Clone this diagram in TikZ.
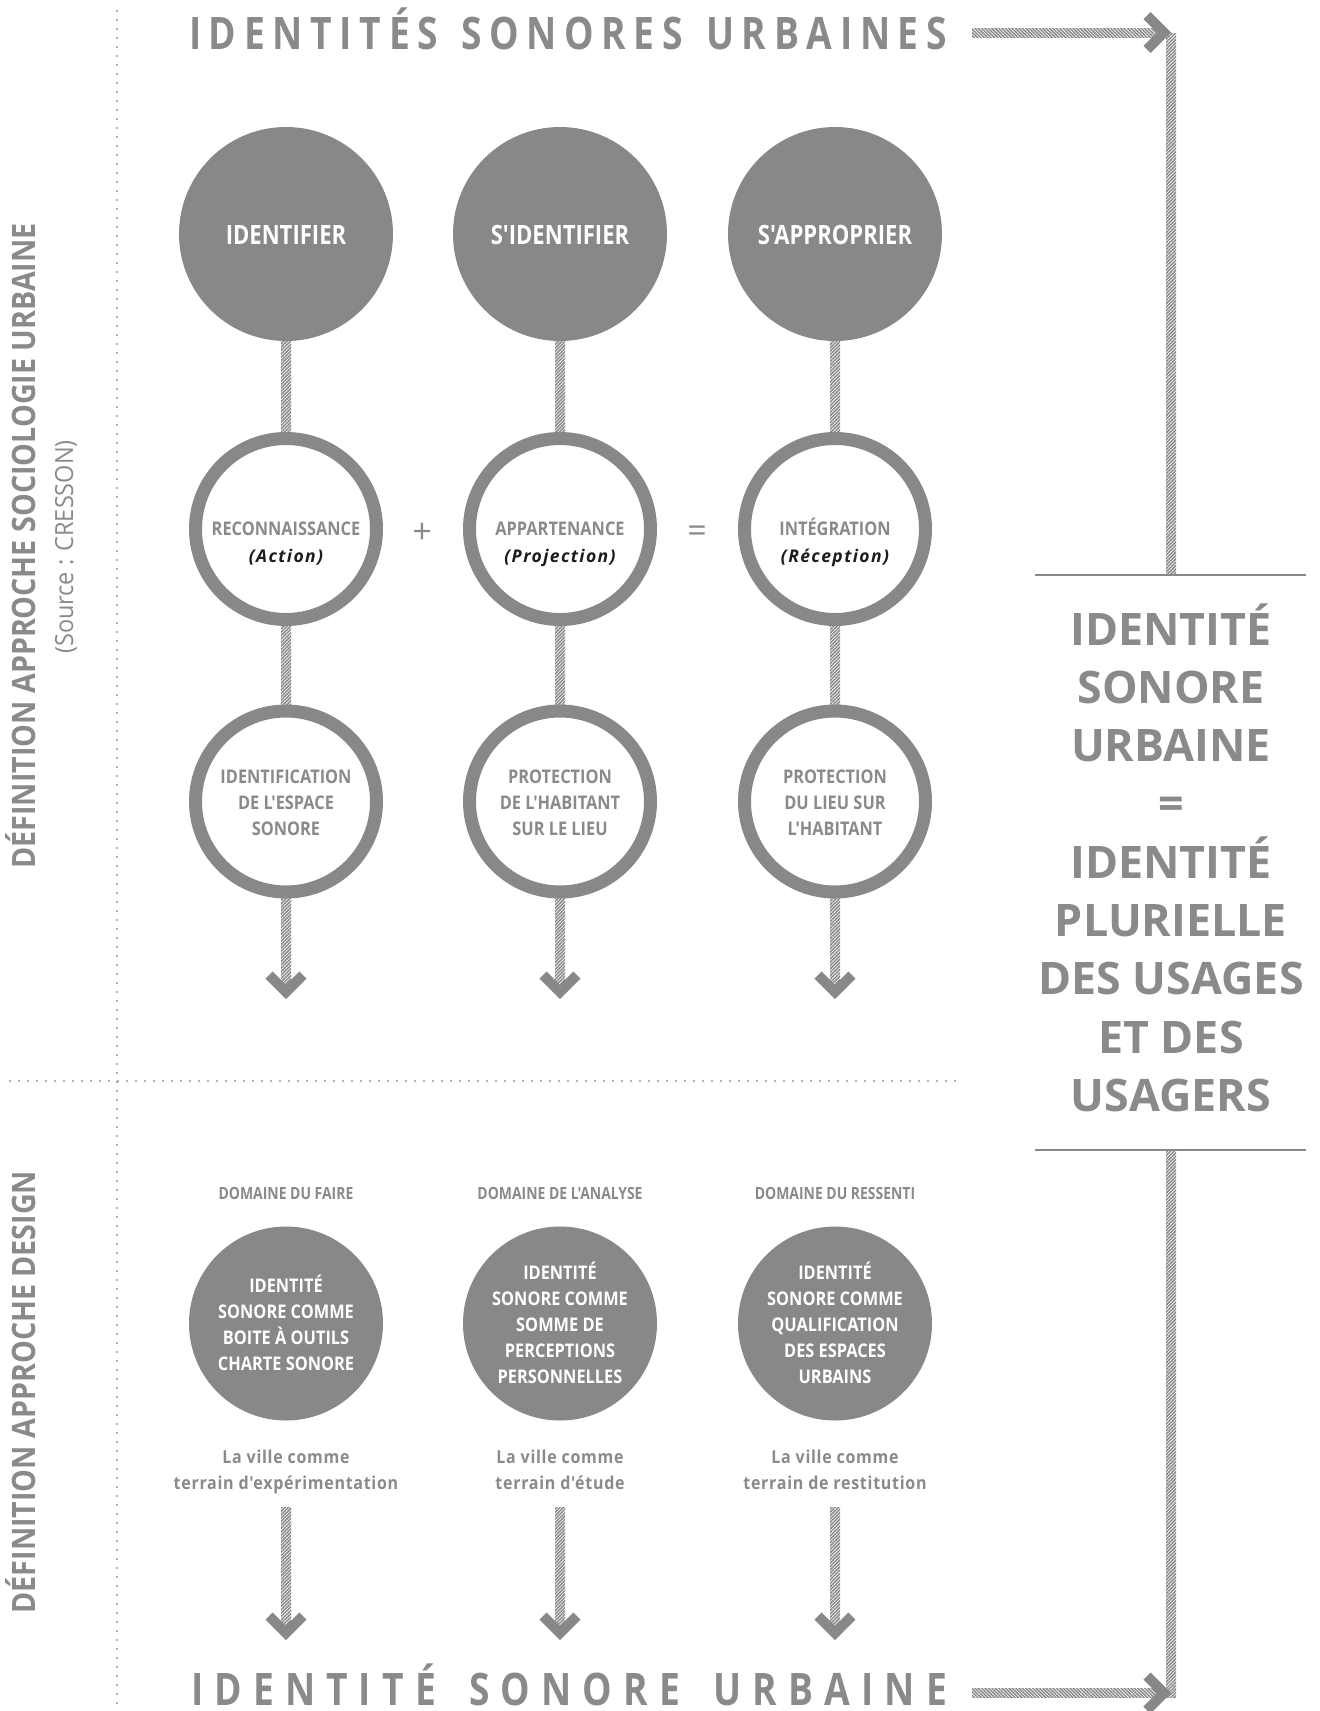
\documentclass[tikz,border=0pt]{standalone}
\usepackage{fontspec}
\setmainfont{Open Sans}
\newfontfamily\fcond[FakeStretch=0.83]{Open Sans}
\newfontfamily\fcondb[FakeStretch=0.87]{Open Sans}
\newfontfamily\fvert[FakeStretch=0.89]{Open Sans}
\newfontfamily\fsrc[FakeStretch=0.94]{Open Sans}
\newfontfamily\fwide{Open Sans}
\newfontfamily\fital[LetterSpace=8]{Open Sans}
\newfontfamily\fville[FakeStretch=0.9,LetterSpace=4]{Open Sans}
\usetikzlibrary{patterns.meta,calc}
\definecolor{gfill}{RGB}{136,136,136}
\definecolor{gtext}{RGB}{138,138,138}
\definecolor{dotc}{RGB}{150,150,150}
\definecolor{ink}{RGB}{28,28,28}
\newcommand\lgap{\hspace{0pt plus 1fill}}
\newcommand\wgap{\hspace{0pt plus 3fill}}
\newcommand\txtlines[6]{%
  \foreach \s [count=\i from 0] in {#6} {\node[lbl,#5] (#1\i) at (#2,{#3+\i*#4}) {\s};}}
\begin{document}
\begin{tikzpicture}[x=1pt,y=-1pt,
  lbl/.style={inner sep=0pt, anchor=base, text=gtext},
  cfont/.style={font=\fcond\bfseries\fontsize{#1}{#1}\selectfont},
  sfont/.style={font=\fcondb\bfseries\fontsize{#1}{#1}\selectfont},
  fillc/.style={circle, fill=gfill, inner sep=0pt, minimum size=#1},
  ringc/.style={circle, draw=gfill, line width=13pt, fill=white, inner sep=0pt, minimum size=181pt},
  hatchv/.style={pattern={Lines[angle=45,distance=2.4pt,line width=1.5pt]}, pattern color=gfill},
  hatchh/.style={pattern={Lines[angle=-45,distance=2.4pt,line width=1.5pt]}, pattern color=gfill},
  chev/.style={draw=gfill, line width=10pt, line join=miter, line cap=butt},
  dotline/.style={draw=dotc, line width=2.2pt, line cap=round, dash pattern=on 0pt off 9pt},
  gline/.style={draw=gfill, line width=2.5pt},
  itl/.style={lbl, text=ink, font=\fital\bfseries\itshape\fontsize{17.5}{17.5}\selectfont},
  ville/.style={lbl, font=\fville\bfseries\fontsize{17.8}{17.8}\selectfont},
  vlab/.style={lbl, rotate=90, font=\fvert\bfseries\fontsize{32.2}{32.2}\selectfont},
  sym/.style={inner sep=0pt, text=gtext, font=\fwide\fontsize{34}{34}\selectfont}
]
\useasboundingbox (0,0) rectangle (1320,1711);
\fill[white] (0,0) rectangle (1320,1711);

% dotted separators
\coordinate (dv1) at (117,11); \coordinate (dv2) at (117,1711);
\coordinate (dh1) at (10,1081); \coordinate (dh2) at (955,1081);
\draw[dotline] (dv1) -- (dv2);
\draw[dotline] (dh1) -- (dh2);

% side labels
\node[vlab] (L1) at (35,546) {DÉFINITION APPROCHE SOCIOLOGIE URBAINE};
\node[lbl, rotate=90, font=\fsrc\fontsize{25}{25}\selectfont] (L2) at (73,547) {(Source : CRESSON)};
\node[vlab] (L3) at (35,1392) {DÉFINITION APPROCHE DESIGN};

% titles
\node[lbl, cfont=44.8] (T1) at (568,49) {\makebox[758pt][s]{I\lgap D\lgap E\lgap N\lgap T\lgap I\lgap T\lgap É\lgap S\wgap S\lgap O\lgap N\lgap O\lgap R\lgap E\lgap S\wgap U\lgap R\lgap B\lgap A\lgap I\lgap N\lgap E\lgap S}};
\node[lbl, cfont=44.8] (T2) at (569,1705) {\makebox[756pt][s]{I\lgap D\lgap E\lgap N\lgap T\lgap I\lgap T\lgap É\wgap S\lgap O\lgap N\lgap O\lgap R\lgap E\wgap U\lgap R\lgap B\lgap A\lgap I\lgap N\lgap E}};

% right block
\coordinate (la1) at (1035,575); \coordinate (la2) at (1306,575);
\coordinate (lb1) at (1035,1150); \coordinate (lb2) at (1306,1150);
\draw[gline] (la1) -- (la2);
\draw[gline] (lb1) -- (lb2);
\txtlines{rb}{1171}{645}{58.3}{font=\fwide\bfseries\fontsize{44.8}{44.8}\selectfont}{IDENTITÉ,SONORE,URBAINE,=,IDENTITÉ,PLURIELLE,DES USAGES,ET DES,USAGERS}

% right hatched path top
\coordinate (hA) at (972,32.5); \coordinate (tipA) at (1164,32.5);
\coordinate (vA) at (1171,33); \coordinate (vB) at (1171,1697);
\fill[hatchh] ($(hA)+(0,-4.5)$) rectangle ($(tipA)+(-3,4.5)$);
\fill[hatchv] ($(vA)+(-5,0)$) rectangle ($(la1-|vA)+(5,-1)$);
\draw[chev] ($(tipA)+(-17,-17)$) -- (tipA) -- ($(tipA)+(-17,17)$);
% right hatched path bottom
\coordinate (hB) at (972,1693); \coordinate (tipB) at (1164,1693);
\fill[hatchv] ($(lb1-|vB)+(-5,1)$) rectangle ($(vB)+(5,0)$);
\fill[hatchh] ($(hB)+(0,-4.5)$) rectangle ($(tipB)+(-3,4.5)$);
\draw[chev] ($(tipB)+(-17,-17)$) -- (tipB) -- ($(tipB)+(-17,17)$);

% upper section
\foreach \i/\x in {1/286,2/560,3/835} {
  \node[fillc=214pt] (t\i) at (\x,234) {};
  \node[ringc] (r\i) at (\x,529) {};
  \node[ringc] (s\i) at (\x,801.5) {};
  \coordinate (a\i) at (\x,992);
  \fill[hatchv] ($(t\i.south)+(-5,0)$) rectangle ($(r\i.north)+(5,0)$);
  \fill[hatchv] ($(r\i.south)+(-5,0)$) rectangle ($(s\i.north)+(5,0)$);
  \fill[hatchv] ($(s\i.south)+(-5,0)$) rectangle ($(a\i)+(5,-2)$);
  \draw[chev] ($(a\i)+(-17,-17)$) -- (a\i) -- ($(a\i)+(17,-17)$);
}
\node[lbl, cfont=26.6, text=white] (tl1) at (286,244.5) {IDENTIFIER};
\node[lbl, cfont=26.6, text=white] (tl2) at (560,244.5) {S'IDENTIFIER};
\node[lbl, cfont=26.6, text=white] (tl3) at (835,244.5) {S'APPROPRIER};

\node[lbl, sfont=18.8] (rl1) at (286,535.7) {RECONNAISSANCE};
\node[itl] (ri1) at (286,562) {(Action)};
\node[lbl, sfont=18.8] (rl2) at (560,535.7) {APPARTENANCE};
\node[itl] (ri2) at (560,562) {(Projection)};
\node[lbl, sfont=18.8] (rl3) at (835,535.7) {INTÉGRATION};
\node[itl] (ri3) at (835,562) {(Réception)};
\node[sym] (plus) at (422,533) {+};
\node[sym] (eq) at (697,534) {=};

\txtlines{sa}{286}{783.5}{26}{sfont=18.8}{IDENTIFICATION,DE L'ESPACE,SONORE}
\txtlines{sb}{560}{783.5}{26}{sfont=18.8}{PROTECTION,DE L'HABITANT,SUR LE LIEU}
\txtlines{sc}{835}{783.5}{26}{sfont=18.8}{PROTECTION,DU LIEU SUR,L'HABITANT}

% lower section
\node[lbl, cfont=16.8] (dm1) at (286,1199) {DOMAINE DU FAIRE};
\node[lbl, cfont=16.8] (dm2) at (560,1199) {DOMAINE DE L'ANALYSE};
\node[lbl, cfont=16.8] (dm3) at (835,1199) {DOMAINE DU RESSENTI};
\foreach \i/\x in {1/286,2/560,3/835} {
  \node[fillc=194pt] (d\i) at (\x,1323.5) {};
  \coordinate (h\i) at (\x,1507);
  \coordinate (b\i) at (\x,1633);
  \fill[hatchv] ($(h\i)+(-5,0)$) rectangle ($(b\i)+(5,-2)$);
  \draw[chev] ($(b\i)+(-17,-17)$) -- (b\i) -- ($(b\i)+(17,-17)$);
}
\txtlines{da}{286}{1292}{26}{sfont=18.8, text=white}{IDENTITÉ,SONORE COMME,BOITE À OUTILS,CHARTE SONORE}
\txtlines{db}{560}{1279}{26}{sfont=18.8, text=white}{IDENTITÉ,SONORE COMME,SOMME DE,PERCEPTIONS,PERSONNELLES}
\txtlines{dc}{835}{1279}{26}{sfont=18.8, text=white}{IDENTITÉ,SONORE COMME,QUALIFICATION,DES ESPACES,URBAINS}

\txtlines{va}{286}{1463}{26}{ville}{La ville comme,terrain d'expérimentation}
\txtlines{vb}{560}{1463}{26}{ville}{La ville comme,terrain d'étude}
\txtlines{vc}{835}{1463}{26}{ville}{La ville comme,terrain de restitution}
\end{tikzpicture}
\end{document}
